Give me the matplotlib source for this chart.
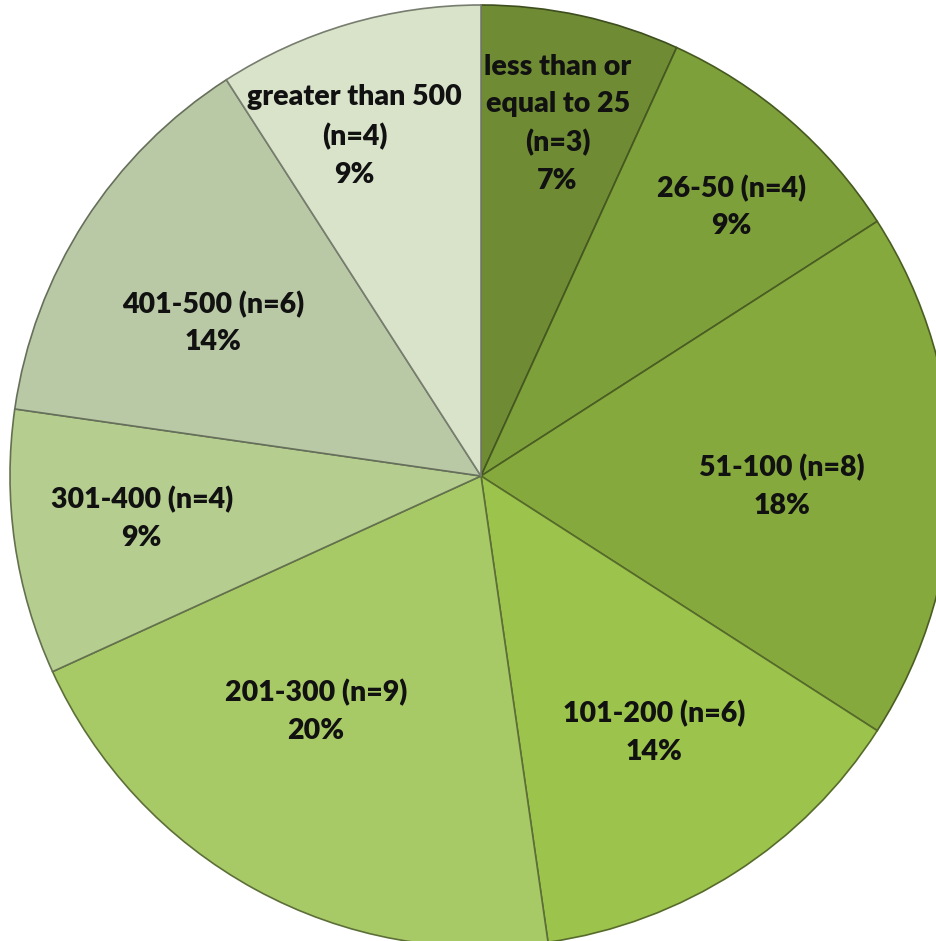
import numpy as np
import matplotlib.pyplot as plt
from matplotlib.colors import to_rgb

# data, clockwise from 12 o'clock
labels = ['less than or\nequal to 25', '26-50', '51-100', '101-200',
          '201-300', '301-400', '401-500', 'greater than 500']
counts = [3, 4, 8, 6, 9, 4, 6, 4]
colors = ['#6f8c34', '#7ea03a', '#86a93e', '#9cc34c',
          '#a8ca66', '#b5cd8f', '#bac9a5', '#d9e3ca']

# label placement tweaks (fraction of radius, angle shift in degrees)
label_r = [0.765, 0.78, 0.64, 0.657, 0.61, 0.726, 0.655, 0.77]
label_shift = [0, 2, 2, -1.2, 6.4, 1, -3, -4]

W, H = 936, 941
cx, cy = 481, 476
R = 471

fig = plt.figure(figsize=(W / 100, H / 100), dpi=100)
ax = fig.add_axes([0, 0, 1, 1])

edge = [tuple(c * 0.55 for c in to_rgb(col)) for col in colors]
wedges, _ = ax.pie(counts, colors=colors, startangle=90, counterclock=False,
                   radius=R, wedgeprops=dict(linewidth=1.2))
for w, e in zip(wedges, edge):
    w.set_edgecolor(e)

total = sum(counts)
for w, lab, n, rf, sh in zip(wedges, labels, counts, label_r, label_shift):
    mid = np.deg2rad((w.theta1 + w.theta2) / 2 - sh)
    x = rf * R * np.cos(mid)
    y = rf * R * np.sin(mid)
    pct = round(100 * n / total)
    if lab.startswith('less') or lab.startswith('greater'):
        txt = '%s\n(n=%d)\n%d%%' % (lab, n, pct)
    else:
        txt = '%s (n=%d)\n%d%%' % (lab, n, pct)
    ax.text(x, y, txt, ha='center', va='center', fontsize=20.5,
            fontweight='heavy', family=['Lato', 'DejaVu Sans'],
            color='#111111', linespacing=1.55)

ax.set_xlim(-cx, W - cx)
ax.set_ylim(-(H - cy), cy)
ax.set_aspect('equal')
ax.axis('off')

fig.savefig('out.png', dpi=100)
